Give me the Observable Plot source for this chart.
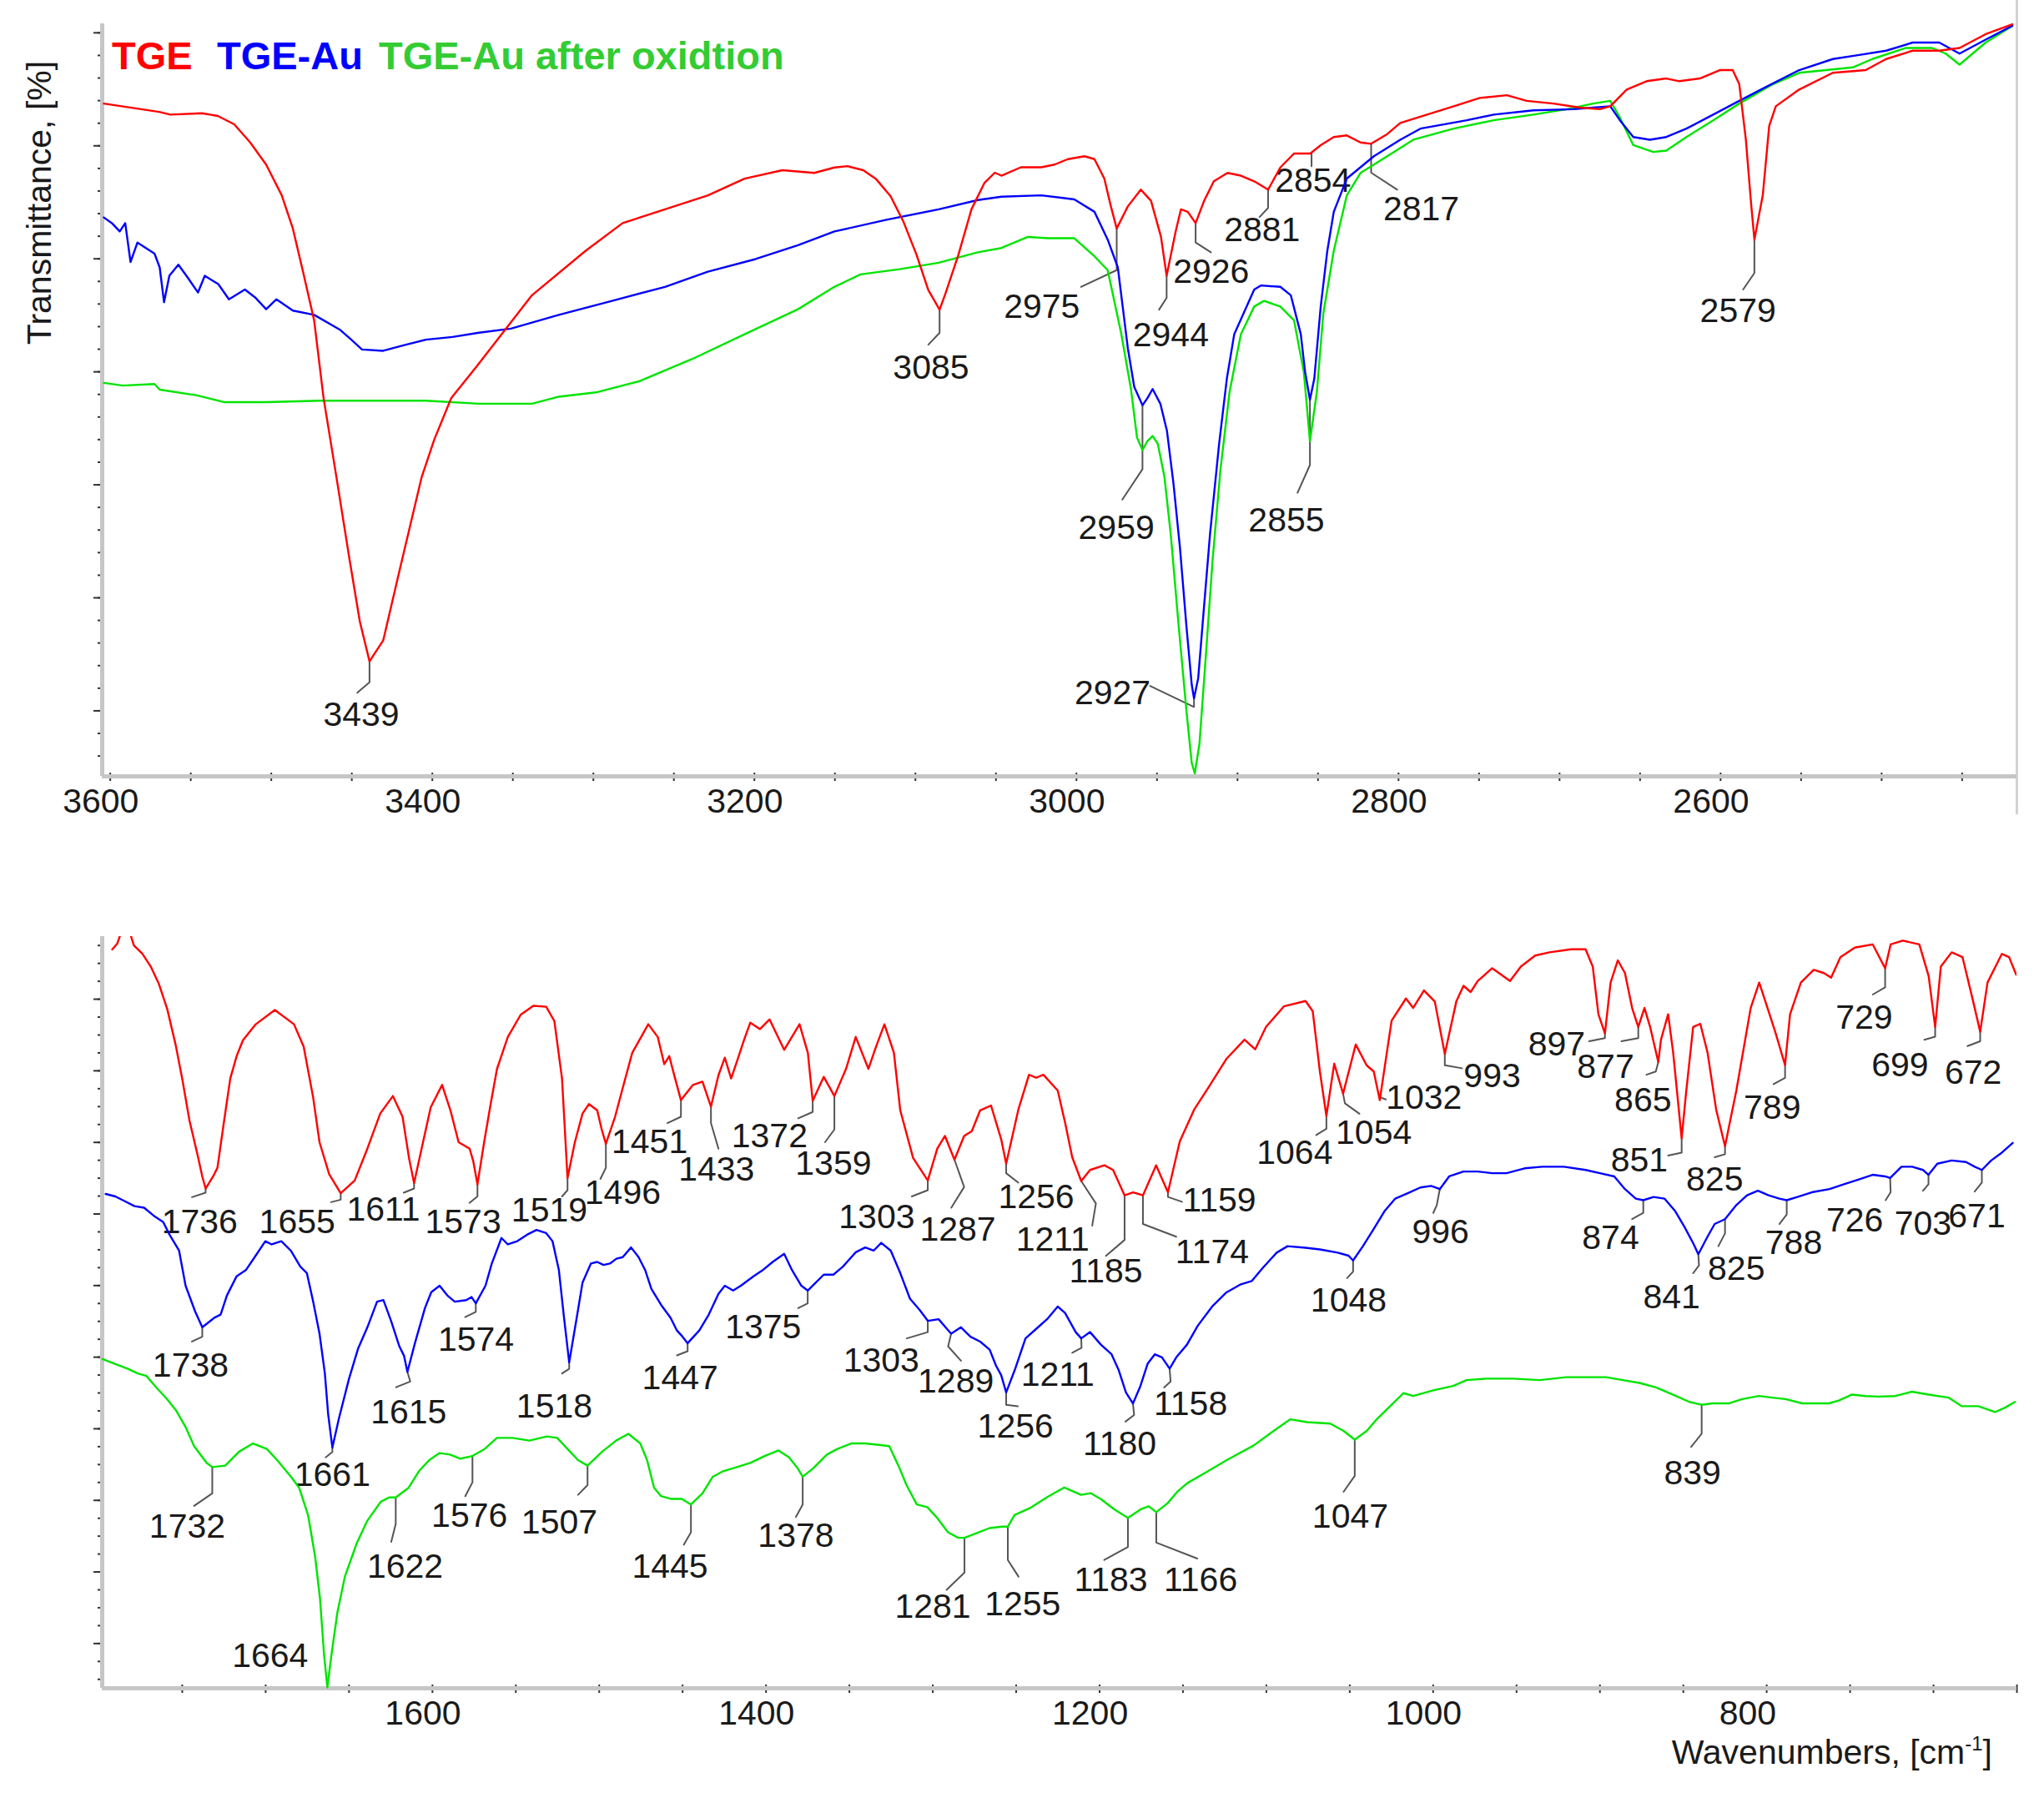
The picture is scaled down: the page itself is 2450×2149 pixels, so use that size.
<!DOCTYPE html>
<html><head><meta charset="utf-8">
<script src="https://cdn.jsdelivr.net/npm/d3@7"></script>
<script src="https://cdn.jsdelivr.net/npm/@observablehq/plot@0.6"></script>
<style>
html,body{margin:0;padding:0;background:#fff;}
#chart{position:relative;width:2450px;height:2149px;overflow:hidden;background:#fff;}
#chart svg{position:absolute;left:0;display:block;}
</style></head>
<body><div id="chart"></div>
<script>
const FONT = '"Liberation Sans", Arial, Helvetica, sans-serif';

// ---------- DATA : upper panel (3600-2415 cm-1), [wavenumber, transmittance a.u.] ----------
const tgeTop = [[3604,29.77],[3569.6,29.40],[3562.7,29.28],[3542.9,29.34],[3533.2,29.22],[3523,28.85],[3513.1,28.05],[3503.2,27.07],[3493.5,25.71],[3486.6,24.24],[3480.1,22.27],[3473.4,20.18],[3467.5,16.73],[3459.5,13.22],[3451.6,9.68],[3445,6.85],[3439,5.09],[3430.5,6.01],[3419.9,9.25],[3406.7,13.22],[3398.8,14.90],[3388.3,16.73],[3372.3,18.15],[3338.1,21.29],[3304.9,23.25],[3281.8,24.48],[3255.5,25.09],[3228.8,25.71],[3206.1,26.45],[3182.6,26.82],[3162.8,26.70],[3150.3,26.94],[3142.2,27.00],[3132.4,26.82],[3124.3,26.42],[3115.4,25.67],[3107.3,24.52],[3099.3,23.08],[3092,21.52],[3085,20.65],[3081.4,21.35],[3073.3,23.08],[3065.2,25.09],[3057.2,26.25],[3050.7,26.71],[3046.6,26.58],[3034.5,26.95],[3021.9,26.95],[3013.6,27.07],[3005.3,27.31],[2995,27.44],[2988.8,27.31],[2982.7,26.45],[2978.6,25.22],[2975,24.24],[2968.1,25.22],[2960,25.96],[2953.7,25.47],[2947.5,23.87],[2944,22.15],[2938.4,24.11],[2935.1,25.09],[2930.9,24.98],[2926,24.48],[2920.7,25.47],[2914.7,26.33],[2906.2,26.70],[2897.9,26.58],[2889.6,26.33],[2881,25.96],[2873.4,26.94],[2864.9,27.56],[2854.8,27.56],[2848.3,27.93],[2840.2,28.29],[2832.1,28.36],[2823.6,28.05],[2817,27.99],[2807,28.42],[2798.9,28.91],[2782.3,29.28],[2765.7,29.65],[2749.5,30.02],[2732.7,30.14],[2720.4,29.89],[2703.8,29.77],[2687.2,29.59],[2675,29.52],[2668.5,29.65],[2658.3,30.39],[2645.9,30.76],[2633.7,30.88],[2625.6,30.76],[2612.9,30.88],[2600.5,31.25],[2592.5,31.25],[2588.4,30.63],[2584.3,28.17],[2581,25.3],[2579,23.75],[2573.8,25.71],[2569.8,28.78],[2565.7,29.65],[2551.2,30.39],[2530.3,31.13],[2509.9,31.25],[2497.2,31.74],[2480.7,32.11],[2464.2,32.11],[2451.6,32.23],[2435.4,32.84],[2418.8,33.28]];

const tgeAuTop = [[3604,24.73],[3599,24.48],[3594.1,24.11],[3590.7,24.48],[3587.4,22.76],[3583.1,23.62],[3572.5,23.13],[3569.3,22.52],[3566.6,20.98],[3563.3,22.15],[3557.7,22.64],[3552.7,22.15],[3545.5,21.41],[3541.3,22.15],[3532.9,21.78],[3526.3,21.11],[3516.4,21.54],[3509.7,21.17],[3503.2,20.67],[3496.8,21.11],[3486.6,20.61],[3473.4,20.42],[3457.1,19.75],[3450.3,19.32],[3443.7,18.89],[3430.5,18.83],[3417.4,19.08],[3404.1,19.32],[3387.5,19.44],[3371,19.63],[3351.2,19.81],[3321.4,20.42],[3288.4,21.04],[3255.5,21.66],[3228.9,22.33],[3199.2,22.89],[3172.9,23.50],[3150.3,24.11],[3117.9,24.63],[3085.5,25.09],[3061.2,25.50],[3046.6,25.65],[3021.9,25.71],[3001.3,25.53],[2988.8,24.98],[2980.6,23.75],[2974.3,22.52],[2968.1,18.95],[2964.1,17.23],[2959,16.42],[2956,16.73],[2952.7,17.14],[2947.9,16.49],[2943.8,15.29],[2939.8,12.99],[2935.7,10.10],[2931.7,6.64],[2928.4,4.05],[2927,3.45],[2924.4,4.34],[2921.1,7.22],[2917.1,10.68],[2911.4,14.72],[2906.6,17.60],[2902,19.57],[2889.6,21.54],[2885.5,21.72],[2873.4,21.66],[2866.9,21.29],[2860.7,19.57],[2858,17.89],[2855,16.67],[2852.3,17.60],[2848.3,20.80],[2844.2,23.26],[2840.2,24.98],[2832.1,26.45],[2815.3,27.44],[2798.9,28.17],[2786.4,28.66],[2757.6,29.03],[2740.9,29.28],[2716.3,29.47],[2691.2,29.52],[2679.1,29.59],[2668.5,29.65],[2662.5,29.03],[2654.2,28.29],[2643.9,28.17],[2633.7,28.29],[2621.2,28.66],[2604.6,29.28],[2588.4,29.89],[2571.7,30.51],[2551.2,31.25],[2530.3,31.74],[2513.9,31.92],[2497.2,32.11],[2480.7,32.47],[2464.2,32.47],[2451.6,31.98],[2435.4,32.60],[2418.8,33.21]];

const tgeAuOxTop = [[3604,17.41],[3592.3,17.29],[3572.5,17.36],[3569.3,17.11],[3546.1,16.86],[3529.6,16.56],[3503.2,16.56],[3470,16.62],[3437.1,16.62],[3404.1,16.62],[3371,16.49],[3338.1,16.49],[3321.4,16.80],[3298.4,16.99],[3271.7,17.48],[3238.8,18.46],[3205.8,19.57],[3172.9,20.67],[3150.3,21.66],[3134.1,22.21],[3109.8,22.44],[3085.5,22.73],[3061.2,23.19],[3046.6,23.38],[3030.1,23.87],[3017.7,23.81],[3001.3,23.81],[2988.8,23.01],[2980.6,22.40],[2972.1,19.56],[2966.1,17.11],[2962.4,15.00],[2959,14.43],[2956,14.83],[2952.7,15.06],[2949.5,14.72],[2945.4,13.27],[2941.4,10.68],[2936.5,6.64],[2931.7,2.90],[2928.4,0.59],[2926.5,0.13],[2923.6,1.45],[2919.5,5.49],[2915.5,9.53],[2910.6,13.56],[2904.9,17.02],[2897.9,19.56],[2889.6,20.79],[2883.5,21.04],[2873.4,20.79],[2864.9,20.18],[2858.8,17.89],[2855,14.83],[2850.7,17.02],[2846.7,20.48],[2840.2,23.26],[2832.1,25.71],[2823.6,26.70],[2807,27.44],[2790.8,28.17],[2765.7,28.66],[2740.9,29.03],[2716.3,29.28],[2695.5,29.52],[2679.1,29.77],[2668.5,29.89],[2662.5,29.15],[2654.2,27.93],[2641.8,27.63],[2633.7,27.69],[2621.2,28.29],[2604.6,29.03],[2588.4,29.77],[2567.4,30.63],[2551.2,31.13],[2534.5,31.25],[2517.9,31.37],[2505.8,31.74],[2484.8,32.23],[2468.6,32.23],[2460.2,31.98],[2451.6,31.49],[2435.4,32.47],[2418.8,33.21]];

// ---------- DATA : lower panel (1800-650 cm-1) ----------
const tgeBot = [[1792,41.28],[1789,41.6],[1786,42.4],[1782,42.4],[1779,41.5],[1774,41.05],[1769,40.34],[1764,39.35],[1759,37.95],[1754,35.97],[1749.9,33.99],[1745.7,31.73],[1740.7,29.75],[1738,28.6],[1736,27.92],[1731.5,28.6],[1728.9,29.08],[1725.1,31.58],[1721.2,34.07],[1717.4,35.32],[1713.6,36.21],[1705.9,37.10],[1694.5,37.90],[1683,37.10],[1677.2,35.85],[1671.5,33.0],[1667.7,30.51],[1661.9,28.72],[1655,27.66],[1646.6,28.37],[1639,30.15],[1631.3,32.11],[1623.7,33.09],[1617.9,31.93],[1614,29.6],[1611,28.22],[1606.5,30.15],[1601,32.47],[1594.2,33.71],[1589.2,32.29],[1584.3,30.51],[1577.7,30.15],[1575.5,29.44],[1573,28.15],[1569,30.51],[1565.1,32.64],[1561.3,34.60],[1554.8,36.39],[1547.1,37.63],[1539.5,38.13],[1531.8,38.08],[1526.9,37.28],[1522.3,34.07],[1519,28.51],[1514.6,30.51],[1510,32.11],[1506.2,32.64],[1501.2,32.29],[1498.5,31.22],[1496,30.42],[1490.5,31.93],[1485.9,33.54],[1480.2,35.50],[1470.6,37.10],[1464.9,36.39],[1461,34.87],[1458,35.32],[1454.5,34.07],[1451,32.86],[1443.8,33.71],[1438.1,33.89],[1433,32.50],[1428.5,34.25],[1424.7,35.23],[1420.9,34.07],[1417,35.14],[1413.2,36.21],[1409.4,37.19],[1403.6,36.83],[1397.9,37.37],[1389.1,35.67],[1384.5,36.39],[1379.9,37.10],[1374.9,35.50],[1372,32.82],[1365.4,34.16],[1359,33.09],[1352,34.61],[1346.2,36.39],[1338.6,34.61],[1334,35.85],[1329,37.10],[1323.3,35.50],[1319.5,32.29],[1311.8,29.63],[1303,28.37],[1297.3,30.15],[1292.7,30.86],[1287,29.53],[1281.2,30.86],[1276.6,31.13],[1271.6,32.29],[1265.1,32.56],[1259,30.68],[1256,29.31],[1248.7,32.33],[1242.3,34.28],[1238,34.11],[1233.7,34.28],[1225.1,33.40],[1220.7,31.62],[1216.4,29.67],[1211,28.34],[1205.7,28.96],[1197.1,29.22],[1191.9,28.96],[1185,27.54],[1179.9,27.71],[1174,27.54],[1166.1,29.22],[1159,27.71],[1151.9,30.56],[1143.3,32.33],[1134.7,33.57],[1123.9,35.17],[1113.1,36.24],[1106.7,35.70],[1100.2,36.95],[1089.5,38.10],[1076.5,38.40],[1072.2,37.83],[1067.9,34.46],[1064,31.98],[1059.3,34.90],[1054,33.22],[1046.4,35.97],[1039.9,34.81],[1035.6,34.46],[1032,32.86],[1024.9,37.30],[1016.3,38.54],[1012,38.01],[1005.5,38.99],[999,38.37],[993,35.44],[986.1,38.37],[981.8,39.25],[977.5,38.90],[973.2,39.52],[964.6,40.23],[953.9,39.52],[947.4,40.32],[938.8,40.94],[930.2,41.12],[917.2,41.29],[908.6,41.29],[904.3,40.32],[900.9,37.66],[897,36.59],[893.6,39.43],[889.3,40.67],[885,39.96],[880.7,38.01],[877,36.95],[873.3,38.01],[869.9,36.95],[865,34.99],[863.4,36.24],[859.1,37.66],[856.1,35.53],[851,30.73],[848.4,33.22],[844.1,36.95],[839.8,37.12],[835.5,35.53],[830.3,32.33],[825,30.29],[818.2,33.40],[809.6,38.01],[804.5,39.43],[798.9,37.83],[794.6,36.59],[789,34.82],[786,37.66],[779.5,39.43],[771.8,40.14],[765.7,39.96],[761.4,39.70],[755.8,40.85],[747.2,41.38],[736.4,41.56],[729,40.23],[725.7,41.56],[718.4,41.77],[708.5,41.56],[702.9,39.79],[699,36.95],[695.6,40.32],[689.1,41.12],[682.6,40.85],[676.2,38.37],[672,36.68],[667.6,39.43],[659,41.03],[654.7,40.85],[650.4,39.87]];

const tgeAuBot = [[1795.9,27.62],[1790.1,27.48],[1784.4,27.21],[1778.6,26.94],[1772.9,26.85],[1767.2,26.41],[1761.4,26.05],[1757.6,25.34],[1751.9,24.45],[1748,22.49],[1742.3,21.06],[1738,20.17],[1733.5,20.5],[1730.8,20.70],[1727,20.88],[1723.2,21.95],[1717.4,23.02],[1711.7,23.38],[1705.9,24.18],[1700.2,24.98],[1696.4,24.80],[1690.6,24.98],[1684.9,24.45],[1679.2,23.56],[1675.3,23.20],[1671.5,21.60],[1667.7,19.81],[1664.5,17.6],[1662.5,15.3],[1660,13.45],[1656,15.1],[1650,17.3],[1644.5,19.0],[1639,20.17],[1633.2,21.60],[1629.4,21.69],[1624.8,20.53],[1619.8,19.10],[1617,18.57],[1615,17.68],[1610.5,19.28],[1604.5,21.24],[1600.7,22.13],[1595.7,22.49],[1591.1,21.95],[1586.6,21.60],[1579.7,21.69],[1576.5,21.86],[1574,21.51],[1568.2,22.49],[1564.4,23.73],[1558.6,25.16],[1554.8,24.80],[1549.1,24.98],[1543.3,25.34],[1537.6,25.61],[1531.8,25.43],[1528,24.98],[1524.2,23.38],[1521.1,20.70],[1518,18.21],[1513.5,20.70],[1510,22.67],[1505,23.73],[1501.2,23.82],[1497.4,23.65],[1493.6,23.73],[1489.7,24.00],[1485.9,24.09],[1480.9,24.63],[1476.4,24.09],[1472.5,23.38],[1468.7,22.31],[1462.9,21.42],[1457.2,20.70],[1453.4,19.99],[1450,19.64],[1447,19.28],[1440,19.99],[1434.3,20.88],[1428.5,22.04],[1424.7,22.49],[1419.7,22.22],[1415.1,22.49],[1407.5,23.02],[1401.7,23.38],[1396,23.82],[1389.1,24.27],[1384.5,23.38],[1378.8,22.49],[1375,22.22],[1371.1,22.58],[1365.4,23.11],[1359.6,23.11],[1353.9,23.56],[1346.2,24.36],[1340.5,24.63],[1335.5,24.45],[1330.9,24.89],[1325.2,24.45],[1319.5,23.20],[1313.7,21.77],[1308,21.15],[1303,20.53],[1296.5,20.62],[1291.5,20.08],[1289,19.81],[1283.1,20.17],[1277.4,19.64],[1271.6,19.37],[1265.9,18.92],[1262.1,18.03],[1259,17.50],[1256,16.53],[1250.9,17.77],[1244.4,19.55],[1238,20.08],[1231.5,20.62],[1225.1,21.33],[1220.7,20.97],[1214.3,19.90],[1211,19.55],[1205.7,19.90],[1199.2,19.20],[1192.8,18.66],[1188.5,17.77],[1184.2,16.53],[1180,15.91],[1175.5,16.89],[1171.2,18.13],[1166.9,18.66],[1162.6,18.49],[1158,17.86],[1154,18.49],[1147.6,19.20],[1141.1,20.26],[1132.5,21.33],[1123.9,22.12],[1115.3,22.57],[1108.8,22.75],[1102.4,23.46],[1093.8,24.34],[1087.3,24.70],[1076.5,24.61],[1067.9,24.52],[1057.2,24.34],[1050.7,24.17],[1048,23.90],[1042.1,24.70],[1035.6,25.67],[1029.2,26.65],[1022.7,27.36],[1014.1,27.71],[1007.7,27.98],[1001.2,28.07],[996,27.89],[990.4,28.60],[981.8,28.87],[973.2,28.87],[964.6,28.78],[956,28.78],[945.2,29.05],[934.5,29.14],[921.6,29.14],[908.6,28.96],[900,28.78],[891.4,28.60],[885,27.89],[878.5,27.36],[874,27.27],[867.8,27.45],[861.3,27.36],[854.8,26.65],[849.2,25.76],[844.1,24.87],[841,24.25],[835.5,25.23],[831.2,25.94],[825,26.21],[818.2,27.00],[811.8,27.54],[805.3,27.80],[798.9,27.54],[792.4,27.36],[788,27.27],[781.6,27.45],[773,27.71],[762.3,27.89],[753.7,28.16],[745.1,28.42],[736.5,28.69],[729,28.60],[726,28.51],[719.2,29.14],[712.8,29.14],[706.3,28.96],[703,28.69],[697.7,29.31],[689.1,29.49],[680.5,29.40],[675.3,29.14],[671,28.96],[665.4,29.49],[659,29.93],[652.5,30.47]];

const tgeAuOxBot = [[1797.8,18.39],[1790.1,18.12],[1782.5,17.85],[1776.7,17.59],[1771.5,17.45],[1765.3,16.78],[1759.5,16.2],[1753.8,15.54],[1748,14.6],[1742.9,13.53],[1735.4,12.60],[1732,12.36],[1724.2,12.44],[1715.9,13.22],[1707.6,13.68],[1699.3,13.37],[1693.1,12.75],[1684.8,11.82],[1679.9,11.20],[1674.5,9.65],[1670.3,7.33],[1667.4,5.00],[1665,1.90],[1663,0.04],[1660.5,1.90],[1657,4.23],[1652.5,6.24],[1645.4,8.10],[1639.2,9.34],[1630.9,10.43],[1626,10.66],[1622,10.66],[1614.3,11.20],[1608.1,12.13],[1601.9,12.75],[1595.7,13.14],[1589.5,13.06],[1583.2,12.83],[1576,12.98],[1568.7,13.37],[1561.3,13.99],[1552.1,13.99],[1541.8,13.84],[1531.4,14.07],[1525.2,13.99],[1519,13.37],[1512.7,12.75],[1507,12.44],[1498.2,13.22],[1489.9,13.84],[1482.5,14.22],[1475.4,13.68],[1471.3,12.75],[1467.1,11.20],[1463,10.74],[1456.8,10.58],[1450.5,10.58],[1445,10.27],[1438.1,10.89],[1431.9,11.82],[1425.7,12.13],[1417.4,12.36],[1409.1,12.60],[1400.8,12.98],[1392.5,13.29],[1386.3,12.91],[1381,12.29],[1378,11.82],[1371.7,12.29],[1363.5,13.06],[1357.2,13.37],[1348.9,13.68],[1340.6,13.68],[1332.4,13.60],[1326.1,13.53],[1319.9,12.29],[1315.8,11.36],[1309.6,10.27],[1303.3,10.12],[1297.1,9.49],[1290.9,8.72],[1284.7,8.41],[1281,8.41],[1272.2,8.72],[1266,8.95],[1258.5,9.03],[1255,9.03],[1251,9.68],[1241.1,10.1],[1231.1,10.7],[1221.1,11.22],[1211.2,10.81],[1205.2,10.90],[1199.2,10.57],[1191.2,10.00],[1183,9.52],[1175.3,10.00],[1170.5,10.17],[1166,9.84],[1159.3,10.33],[1153.4,10.98],[1147.4,11.46],[1135.4,12.11],[1123.5,12.76],[1107.5,13.57],[1095.6,14.38],[1085.6,15.03],[1075.6,14.87],[1061.7,14.79],[1053.7,14.38],[1047,13.89],[1039.8,14.38],[1033.8,15.03],[1025.8,15.76],[1017.8,16.49],[1011.9,16.33],[999.9,16.65],[988,16.89],[980,17.22],[968,17.30],[952.1,17.30],[936.1,17.22],[920.2,17.38],[908.2,17.38],[896.3,17.38],[886.3,17.22],[876.3,17.06],[866.4,16.81],[856.4,16.41],[846.4,16.00],[839,15.84],[832.5,15.92],[822.5,15.92],[814.6,16.16],[804.6,16.33],[796.6,16.24],[788.7,16.16],[778.7,15.92],[770.7,15.92],[762.7,15.92],[756.8,16.08],[748.8,16.41],[740.8,16.33],[732.8,16.30],[722.9,16.33],[712.9,16.57],[702.9,16.41],[691,16.24],[683,15.76],[673.1,15.76],[663.1,15.43],[657.1,15.68],[651.1,16.00]];

// ---------- peak labels: [text, peak x, text x, text y, peak y, bend x, bend y, end x, end y] ----------
const topPeaks = [
  ["3439",3439,3444.1,2.72,5.09,3439,4.16,3446.6,3.70],
  ["3085",3085,3090.3,18.06,20.65,3085,19.62,3092.0,19.10],
  ["2975",2975,3021.5,20.77,24.24,2975,22.40,2997.2,21.66],
  ["2944",2944,2941.4,19.50,22.15,2944,21.17,2948.7,20.65],
  ["2926",2926,2916.3,22.33,24.48,2926,23.62,2916.5,23.19],
  ["2881",2881,2884.7,24.17,25.96,2881,25.15,2886.3,24.75],
  ["2854",2854,2853.1,26.36,27.56,2854,27.0,2854,27.0],
  ["2817",2817,2785.9,25.09,27.99,2817,26.71,2800.8,25.96],
  ["2579",2579,2589.2,20.60,23.75,2579,22.27,2586.0,21.54],
  ["2959",2959,2975.2,10.97,16.42,2959,13.59,2971.5,12.25],
  ["2927",2927,2977.6,3.69,3.45,2927,3.07,2954.3,4.00],
  ["2855",2855,2869.6,11.32,16.67,2855,13.78,2862.7,12.55]
];
const tgePeaksBot = [
  ["1736",1736,1739.6,26.05,27.92,1736,27.69,1744.2,27.44],
  ["1655",1655,1681.1,26.05,27.66,1655,27.30,1660.8,27.16],
  ["1611",1611,1629.4,26.73,28.22,1611,27.92,1617.2,27.69],
  ["1573",1573,1581.6,26.05,28.15,1573,27.48,1577.8,27.12],
  ["1519",1519,1529.9,26.67,28.51,1519,27.83,1522.3,27.48],
  ["1496",1496,1485.9,27.69,30.42,1496,29.08,1499.3,28.46],
  ["1451",1451,1469.8,30.51,32.86,1451,31.93,1459.1,31.58],
  ["1433",1433,1429.7,28.99,32.50,1433,31.58,1428.5,30.15],
  ["1372",1372,1397.9,30.86,32.82,1372,32.20,1380.7,31.84],
  ["1359",1359,1359.6,29.29,33.09,1359,31.22,1364.6,30.51],
  ["1303",1303,1333.6,26.32,28.37,1303,27.83,1312.6,27.48],
  ["1287",1287,1285.0,25.61,29.53,1281.2,28.01,1288.9,26.85],
  ["1256",1256,1238.0,27.45,29.31,1256,28.78,1248.7,28.25],
  ["1211",1211,1228.1,25.05,28.34,1202.2,27.09,1204.4,25.85],
  ["1185",1185,1196.2,23.28,27.54,1185,25.05,1196.2,24.16],
  ["1174",1174,1132.5,24.34,27.54,1174,25.94,1154.0,25.23],
  ["1159",1159,1128.2,27.27,27.71,1159,27.45,1150.6,27.18],
  ["1064",1064,1083.0,29.93,31.98,1064,31.26,1070.1,30.91],
  ["1054",1054,1035.6,31.02,33.22,1052.9,32.68,1044.2,32.10],
  ["1032",1032,1005.5,32.98,33.05,1031.3,33.0,1028.3,32.90],
  ["993",993,964.6,34.19,35.44,993,34.81,982.7,34.64],
  ["897",897,925.9,35.97,36.59,897,36.32,906.5,36.15],
  ["877",877,896.6,34.73,36.95,877,36.32,887.1,36.15],
  ["865",865,874.2,32.86,34.99,866.5,34.46,872.1,34.28],
  ["851",851,876.4,29.49,30.73,851,29.93,859.1,29.76],
  ["825",825,831.2,28.42,30.29,825,29.84,831.2,29.67],
  ["789",789,796.7,32.42,34.82,789,34.10,795.9,33.75],
  ["729",729,741.6,37.48,40.23,729,39.16,736.4,38.76],
  ["699",699,720.1,34.81,36.95,699,36.41,705.5,36.23],
  ["672",672,676.2,34.37,36.68,672,36.15,679.6,35.88]
];
const tgeAuPeaksBot = [
  ["1738",1738,1745.0,18.03,20.17,1738,19.64,1744.2,19.37],
  ["1661",1660,1660,11.90,13.45,1660,13.2,1664,12.9],
  ["1615",1615,1614.3,15.4,17.68,1613.3,17.14,1621.8,16.82],
  ["1574",1574,1573.9,19.46,21.51,1574,21.03,1580.4,20.74],
  ["1518",1518,1526.9,15.72,18.21,1518,17.85,1522.3,17.59],
  ["1447",1447,1451.5,17.32,19.28,1447,18.83,1453.4,18.60],
  ["1375",1375,1401.7,20.17,22.22,1375,21.51,1380.7,21.24],
  ["1303",1303,1330.9,18.30,20.53,1303,19.90,1315.6,19.55],
  ["1289",1289,1286.2,17.14,19.81,1290.8,19.10,1283.1,18.30],
  ["1256",1256,1250.4,14.64,16.53,1256,15.84,1249,15.76],
  ["1211",1211,1225.1,17.51,19.55,1210.8,19.02,1216.4,18.75],
  ["1180",1180,1188.0,13.65,15.91,1179.3,15.27,1184.5,14.90],
  ["1158",1158,1145.4,15.87,17.86,1157.4,17.14,1161.3,16.81],
  ["1048",1048,1050.7,21.68,23.90,1048,23.28,1051.6,22.92],
  ["996",996,995.6,25.50,27.89,997.8,27.0,999.9,26.56],
  ["874",874,893.6,25.14,27.27,874,26.56,880.7,26.21],
  ["841",841,857.0,21.86,24.25,840.6,23.63,844.1,23.19],
  ["825",825,818.2,23.45,26.21,825,25.41,829.0,24.70],
  ["788",788,783.8,24.87,27.27,788,26.47,792.4,25.94],
  ["726",726,747.2,26.12,28.51,725.7,27.71,728.7,27.27],
  ["703",703,706.3,25.94,28.69,703,28.16,706.3,27.80],
  ["671",671,674.0,26.38,28.96,671,28.25,675.3,27.75]
];
const tgeAuOxPeaksBot = [
  ["1732",1732,1747.0,9.03,12.36,1732,10.89,1742.9,10.19],
  ["1664",1663,1697.3,1.82,null,null,null,null,null],
  ["1622",1622,1616.4,6.78,10.66,1622,9.18,1624.7,8.18],
  ["1576",1576,1577.8,9.65,12.98,1576,11.51,1580.3,10.73],
  ["1507",1507,1523.9,9.26,12.44,1507,11.35,1512.7,10.81],
  ["1445",1445,1457.6,6.78,10.27,1445,8.72,1449.3,8.02],
  ["1378",1378,1382.1,8.49,11.82,1378,10.27,1382.1,9.57],
  ["1281",1281,1300.0,4.53,8.41,1281,6.47,1291.7,5.50],
  ["1255",1255,1246.1,4.69,9.03,1255,7.17,1248.6,6.24],
  ["1183",1183,1193.2,6.03,9.52,1183,7.90,1197.2,7.17],
  ["1166",1166,1139.4,6.03,9.84,1166,8.14,1141.4,7.25],
  ["1047",1047,1049.7,9.60,13.89,1047,11.87,1053.7,10.98],
  ["839",839,844.5,12.03,15.84,839,14.22,845.3,13.49]
];

// axes
const topDomainX = [3605, 2416], topDomainY = [0, 33.3];
const botDomainX = [1798, 650],  botDomainY = [0, 42];
const topTickLabels = [3600, 3400, 3200, 3000, 2800, 2600];
const botTickLabels = [1600, 1400, 1200, 1000, 800];
const topMinorX = d3.range(2450, 3601, 50);
const botMinorX = d3.range(650, 1751, 50);
const topMinorY = d3.range(0.9, 33.3, 1), topMajorY = d3.range(2.9, 33.3, 5);
const botMinorY = d3.range(0.5, 42, 1),   botMajorY = d3.range(2.5, 42, 4);

const seriesNames = ["TGE", "TGE-Au", "TGE-Au after oxidtion"];
const seriesColors = ["#ff0000", "#0000ff", "#00e400"];
const legendColors = ["#ff0000", "#0000ff", "#33cc33"];

// ---------- helpers ----------
const W = 2450, ML = 122, MR = 33;
const plotW = W - ML - MR;
function leaders(peaks) {
  const pts = [];
  peaks.forEach((p, i) => {
    if (p[4] == null) return;
    pts.push({x: p[1], y: p[4], id: i}, {x: p[5], y: p[6], id: i}, {x: p[7], y: p[8], id: i});
  });
  return pts;
}
function axisMarks(dx, dy, pxH, minorX, labelsX, minorY, majorY) {
  const ux = plotW / Math.abs(dx[0] - dx[1]);   // px per x unit
  const uy = pxH / (dy[1] - dy[0]);              // px per y unit
  const left = dx[0];
  return [
    Plot.ruleX(minorX, {x: d => d, y1: 4 / uy, y2: -6 / uy, stroke: "#333", strokeWidth: 2}),
    Plot.ruleY(minorY, {y: d => d, x1: left, x2: left + 5 / ux, stroke: "#333", strokeWidth: 2}),
    Plot.ruleY(majorY, {y: d => d, x1: left, x2: left + 10 / ux, stroke: "#333", strokeWidth: 2}),
    Plot.ruleX([left], {stroke: "#c6c6c6", strokeWidth: 5}),
    Plot.ruleY([0], {stroke: "#c6c6c6", strokeWidth: 5}),
    Plot.text(labelsX, {x: d => d, frameAnchor: "bottom", text: d => String(d), lineAnchor: "top",
      textAnchor: "start", dx: -57, dy: 14, fontSize: 41, fill: "#1a1a1a"})
  ];
}
function peakMarks(peaks) {
  return [
    Plot.line(leaders(peaks), {x: "x", y: "y", z: "id", stroke: "#555", strokeWidth: 2}),
    Plot.text(peaks, {x: d => d[2], y: d => d[3], text: d => d[0], fontSize: 41, fill: "#1a1a1a"})
  ];
}
const line = (data, color, extra = {}) =>
  Plot.line(data, {x: d => d[0], y: d => d[1], stroke: color, strokeWidth: 2.4, ...extra});

// ---------- upper panel ----------
const topPlot = Plot.plot({
  width: W, height: 1000, marginLeft: ML, marginRight: MR, marginTop: 28, marginBottom: 70,
  x: {domain: topDomainX, axis: null}, y: {domain: topDomainY, axis: null},
  style: {fontFamily: FONT, background: "transparent", overflow: "visible"},
  marks: [
    Plot.ruleX([topDomainX[1]], {y1: 34.35, y2: -1.7, stroke: "#d2d2d2", strokeWidth: 3}),
    ...axisMarks(topDomainX, topDomainY, 902, topMinorX, topTickLabels, topMinorY, topMajorY),
    ...peakMarks(topPeaks),
    line(tgeAuOxTop, seriesColors[2]),
    line(tgeAuTop, seriesColors[1]),
    line(tgeTop, seriesColors[0])
  ]
});
topPlot.style.top = "0px";

// ---------- lower panel ----------
const botPlot = Plot.plot({
  width: W, height: 1149, marginLeft: ML, marginRight: MR, marginTop: 122, marginBottom: 126,
  x: {domain: botDomainX, axis: null}, y: {domain: botDomainY, axis: null},
  style: {fontFamily: FONT, background: "transparent", overflow: "visible"},
  marks: [
    ...axisMarks(botDomainX, botDomainY, 901, botMinorX, botTickLabels, botMinorY, botMajorY),
    ...peakMarks(tgePeaksBot),
    ...peakMarks(tgeAuPeaksBot),
    ...peakMarks(tgeAuOxPeaksBot),
    line(tgeAuOxBot, seriesColors[2]),
    line(tgeAuBot, seriesColors[1]),
    line(tgeBot, seriesColors[0], {clip: true})
  ]
});
botPlot.style.top = "1000px";

const chart = document.getElementById("chart");
chart.appendChild(topPlot);
chart.appendChild(botPlot);

// legend (inside upper panel) and axis titles
const ts = d3.select(topPlot);
const legendX = [134, 260, 454];
seriesNames.forEach((name, i) => {
  ts.append("text").attr("x", legendX[i]).attr("y", 83).attr("text-anchor", "start")
    .attr("font-family", FONT).attr("font-size", 47).attr("font-weight", "bold")
    .attr("fill", legendColors[i]).text(name);
});
ts.append("text")
  .attr("transform", "translate(61,243) rotate(-90)")
  .attr("text-anchor", "middle").attr("font-family", FONT).attr("font-size", 41)
  .attr("fill", "#1a1a1a").text("Transmittance, [%]");

const bs = d3.select(botPlot);
const xt = bs.append("text").attr("x", 2388).attr("y", 1114).attr("text-anchor", "end")
  .attr("font-family", FONT).attr("font-size", 41).attr("fill", "#1a1a1a");
xt.append("tspan").text("Wavenumbers, [cm");
xt.append("tspan").attr("dy", -16).attr("font-size", 24).text("-1");
xt.append("tspan").attr("dy", 16).text("]");
</script>
</body></html>
